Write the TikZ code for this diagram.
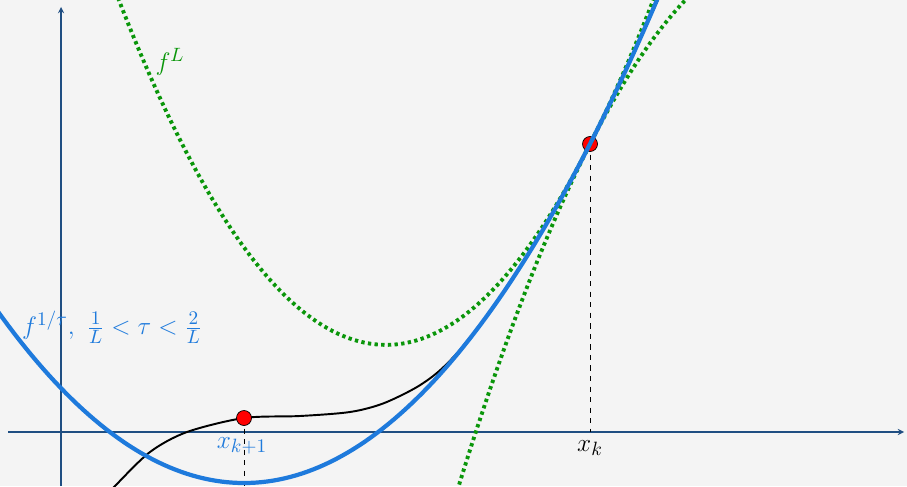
\documentclass[tikz,border=0pt]{standalone}
\usetikzlibrary{positioning}
\definecolor{bgcol}{RGB}{244,244,244}
\definecolor{axiscol}{RGB}{31,78,130}
\definecolor{taucol}{RGB}{30,122,220}
\definecolor{lcol}{RGB}{10,150,10}

\begin{document}
\begin{tikzpicture}[
    axis/.style={->, >=stealth, draw=axiscol, line width=0.6pt},
    fcurve/.style={draw=black, line width=1.1pt},
    taucurve/.style={draw=taucol, line width=2.4pt},
    lcurve/.style={draw=lcol, line width=2.2pt, dash pattern=on 1.9pt off 1.9pt},
    guide/.style={draw=black, dashed, thin},
    iterate/.style={circle, draw=black, fill=red, inner sep=0pt, minimum size=0.3cm},
    lbl/.style={font=\fontsize{15.4}{18}\selectfont},
]
\fill[bgcol] (-1.22,-1.08) rectangle (16.92,8.64);
\useasboundingbox (-1.22,-1.08) rectangle (16.92,8.64);

% axes
\coordinate (xs) at (-1.06,0);
\coordinate (xe) at (16.86,0);
\coordinate (ys) at (0,-1.08);
\coordinate (ye) at (0,8.5);
\draw[axis] (xs) -- (xe);
\draw[axis] (ys) -- (ye);

% iterates and their guides
\coordinate (dk) at (10.58,5.76);
\coordinate (dk1) at (3.66,0.28);
\coordinate (bk) at (10.58,0);
\coordinate (bk1) at (3.66,-1.08);
\draw[guide] (dk) -- (bk);
\draw[guide] (dk1) -- (bk1);

\begin{scope}
\clip (-1.22,-1.08) rectangle (16.92,8.64);
% the function f
\draw[fcurve] plot[smooth] coordinates {(0.6,-1.6) (1.08,-1.08) (1.78,-0.40) (2.52,0) (3.66,0.28) (4.78,0.32) (5.78,0.40) (6.44,0.57) (7.12,0.90) (7.62,1.27) (8.2,1.90) (9.0,3.0) (9.8,4.31) (10.58,5.76) (11.3,7.22) (12.0,8.78)};
\node[iterate] (pk) at (dk) {};
\node[iterate] (pk1) at (dk1) {};
% quadratic bounds
\draw[lcurve, domain=0.5:13, samples=120] plot (\x, {5.76+1.97*(\x-10.58)+0.2415*(\x-10.58)^2});
\draw[lcurve, domain=7:13, samples=80] plot (\x, {5.76+1.97*(\x-10.58)-0.2415*(\x-10.58)^2});
\draw[taucurve, domain=-1.4:12.3, samples=120] plot (\x, {0.1416*(\x-3.66)^2-1.02});
\end{scope}

\node[lbl, text=lcol] (lL) at (2.18,7.4) {$f^L$};
\node[lbl, text=taucol, anchor=west] (ltau) at (-0.9,2.1) {$f^{1/\tau},\ \frac{1}{L} < \tau < \frac{2}{L}$};
\node[lbl] (lk) at (10.58,-0.32) {$x_k$};
\node[lbl, text=taucol] (lk1) at (3.62,-0.28) {$x_{k+1}$};
\end{tikzpicture}
\end{document}
